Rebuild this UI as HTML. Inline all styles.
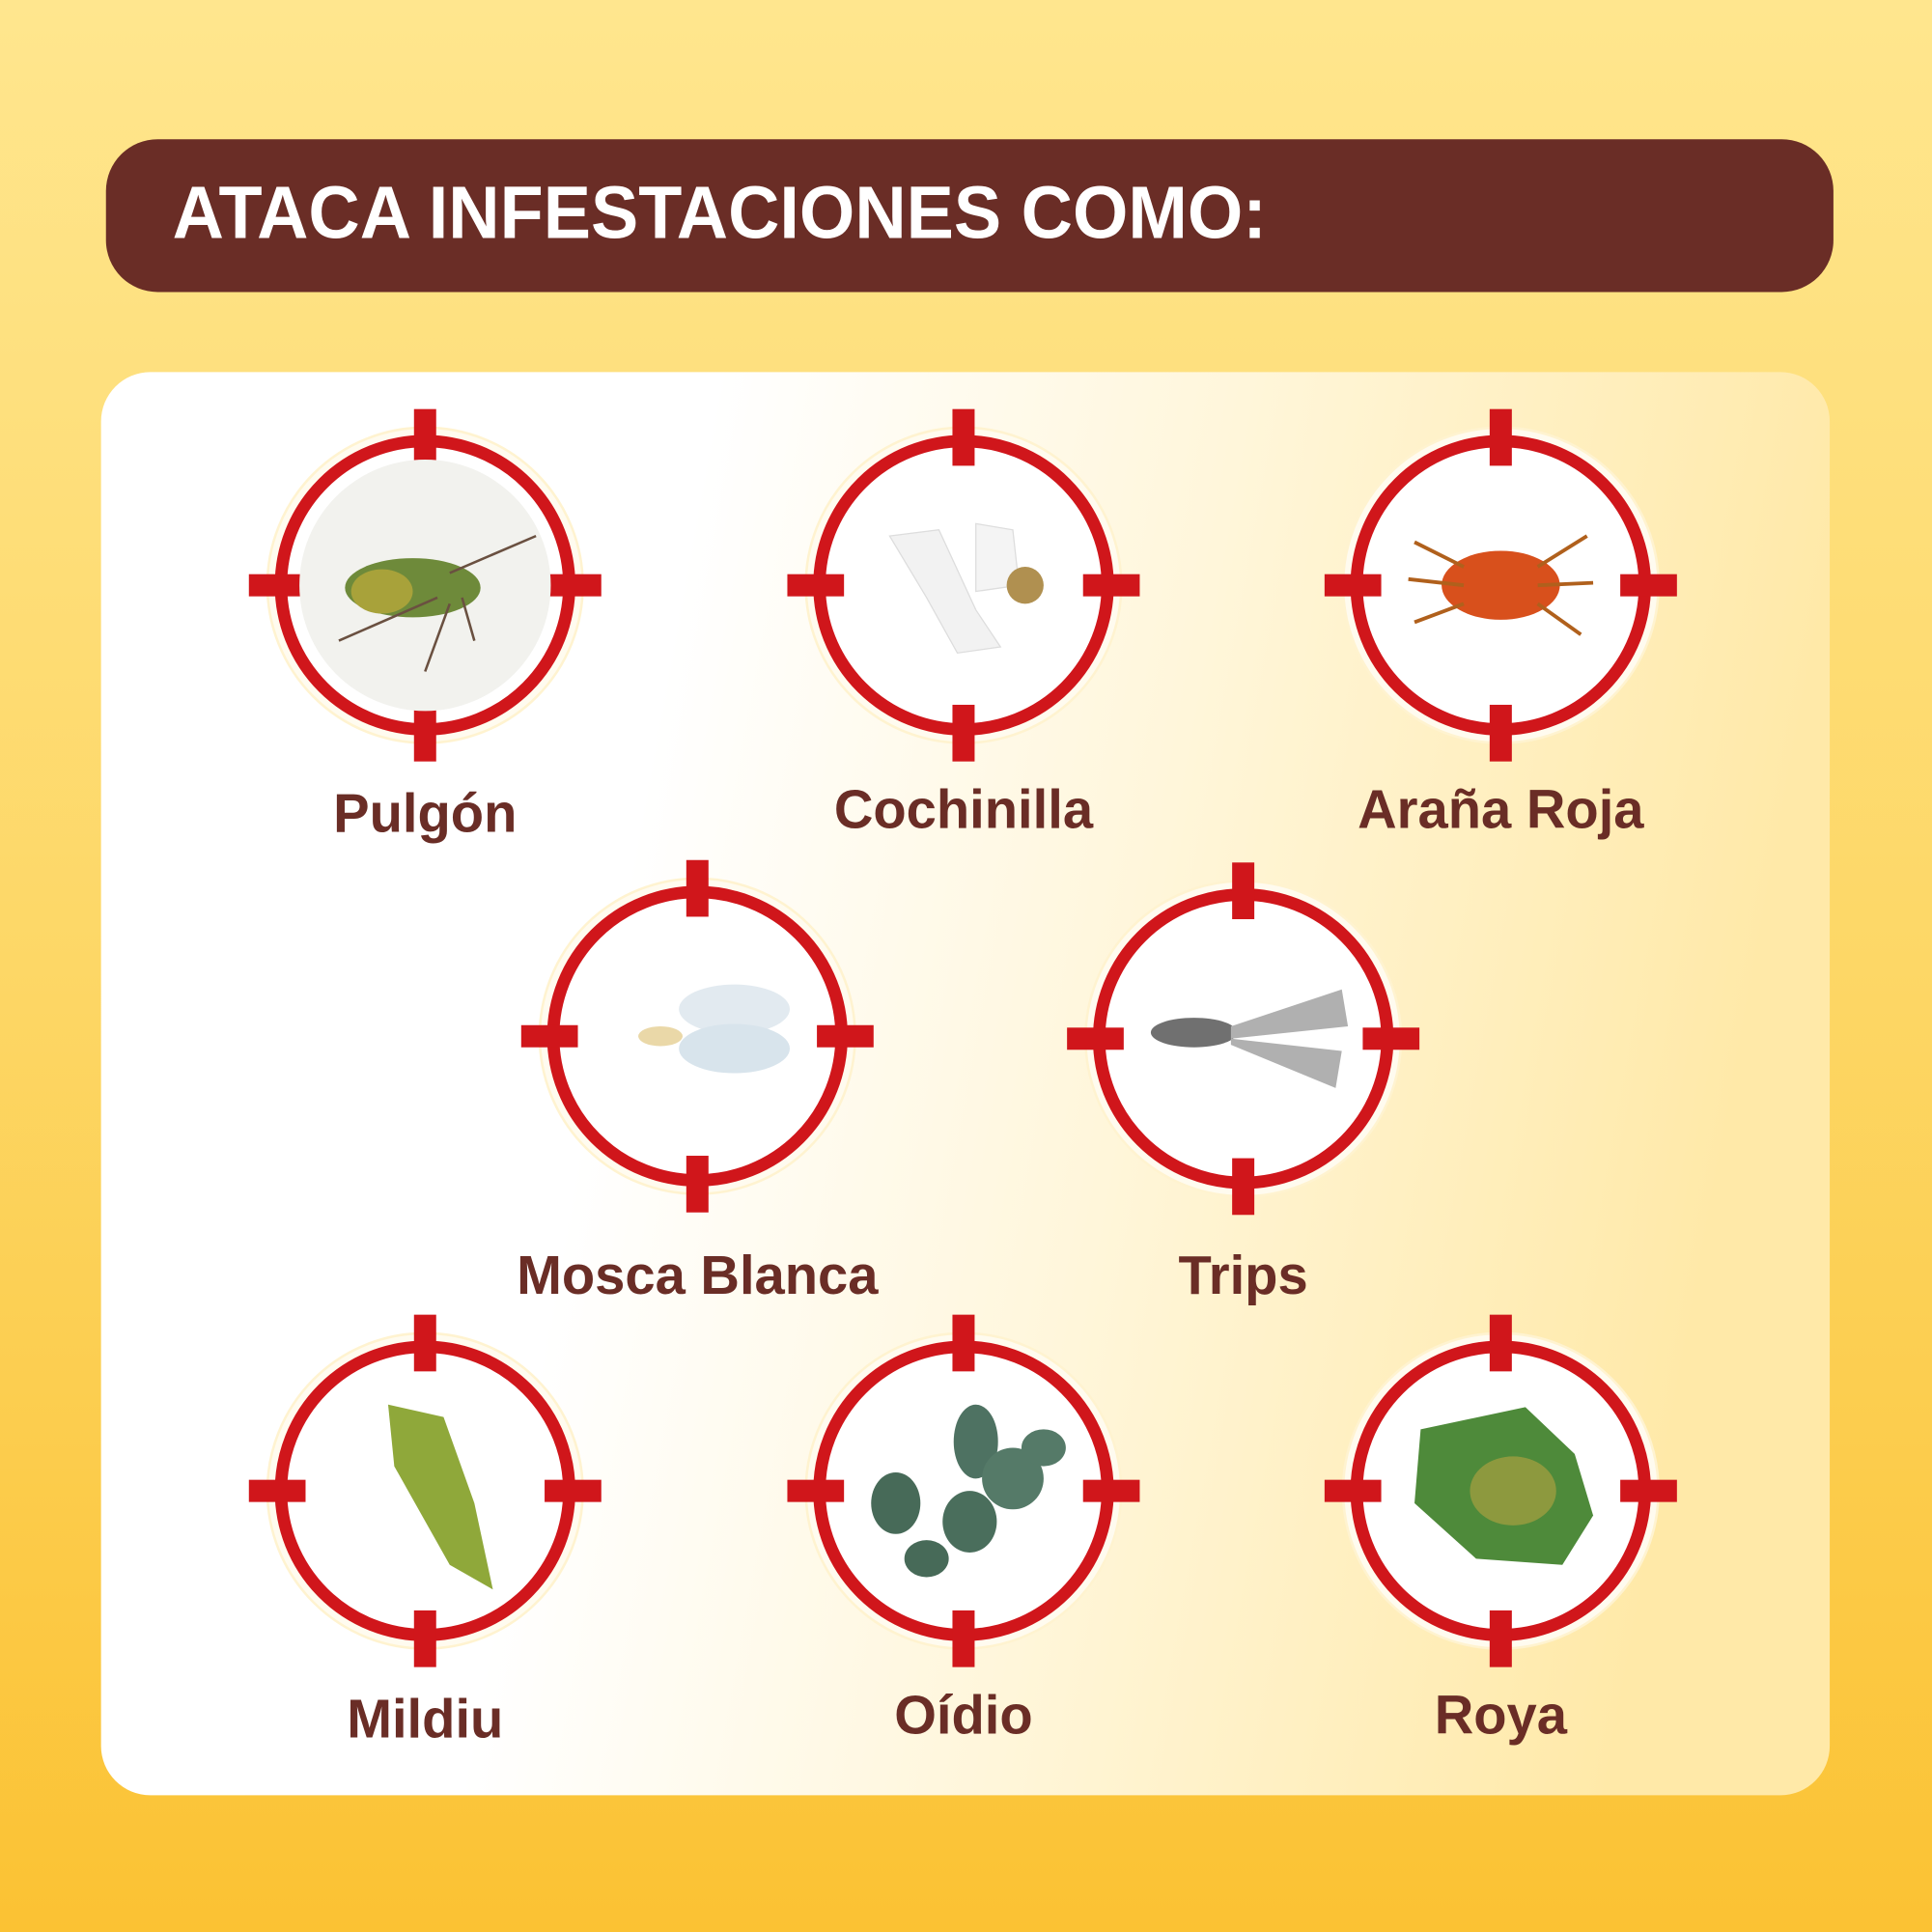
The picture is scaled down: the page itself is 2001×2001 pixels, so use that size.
<!DOCTYPE html>
<html><head><meta charset="utf-8"><style>
html,body{margin:0;padding:0;width:2001px;height:2001px;overflow:hidden}
svg{display:block}
</style></head><body>
<svg width="2001" height="2001" viewBox="0 0 1568 1568" xmlns="http://www.w3.org/2000/svg">
<defs>
<linearGradient id="bg" x1="0" y1="0" x2="0" y2="1">
<stop offset="0" stop-color="#FFE68E"/><stop offset="0.5" stop-color="#FDD766"/><stop offset="1" stop-color="#FBC233"/>
</linearGradient>
<linearGradient id="pn" x1="0" y1="0" x2="1" y2="0.15">
<stop offset="0" stop-color="#FFFFFF"/><stop offset="0.35" stop-color="#FFFFFF"/><stop offset="0.65" stop-color="#FFF6DA"/><stop offset="1" stop-color="#FFE9A8"/>
</linearGradient>
<g id="t">
<circle r="128" fill="#FFFBEF" stroke="#FFF3D0" stroke-width="2"/>
<circle r="116" fill="#FFFFFF"/>
<circle r="117" fill="none" stroke="#D0161B" stroke-width="10"/>
<rect x="-9" y="-143" width="18" height="46" fill="#D0161B"/>
<rect x="-9" y="97" width="18" height="46" fill="#D0161B"/>
<rect x="-143" y="-9" width="46" height="18" fill="#D0161B"/>
<rect x="97" y="-9" width="46" height="18" fill="#D0161B"/>
</g>
</defs>
<rect width="1568" height="1568" fill="url(#bg)"/>
<rect x="86" y="113" width="1402" height="124" rx="42" fill="#6A2D26"/>
<text x="140" y="193" font-family="Liberation Sans, sans-serif" font-weight="bold" font-size="60" fill="#FFFFFF" textLength="888" lengthAdjust="spacingAndGlyphs">ATACA INFESTACIONES COMO:</text>
<rect x="82" y="302" width="1403" height="1155" rx="40" fill="url(#pn)"/>

<g transform="translate(345,475)"><use href="#t"/><circle r="102" fill="#F2F2EE"/><ellipse cx="-10" cy="2" rx="55" ry="24" fill="#6E8A3A"/><ellipse cx="-35" cy="5" rx="25" ry="18" fill="#A8A23A"/><path d="M20 -10 L90 -40 M10 10 L-70 45 M20 15 L0 70 M30 10 L40 45" stroke="#6a5040" stroke-width="2" fill="none"/></g>
<g transform="translate(782,475)"><use href="#t"/><path d="M-60 -40 L-20 -45 L10 20 L30 50 L-5 55 L-30 10 Z" fill="#F2F2F2" stroke="#ddd"/><path d="M10 -50 L40 -45 L45 0 L10 5 Z" fill="#F4F4F4" stroke="#ddd"/><circle cx="50" cy="0" r="15" fill="#B09050"/></g>
<g transform="translate(1218,475)"><use href="#t"/><ellipse rx="48" ry="28" fill="#D8501C"/><path d="M-30 -15 L-70 -35 M-30 0 L-75 -5 M-30 15 L-70 30 M30 -15 L70 -40 M30 0 L75 -2 M30 15 L65 40" stroke="#B0601C" stroke-width="3" fill="none"/></g>
<g transform="translate(566,841)"><use href="#t"/><ellipse cx="30" cy="-22" rx="45" ry="20" fill="#E2EAF0"/><ellipse cx="30" cy="10" rx="45" ry="20" fill="#D8E4EC"/><ellipse cx="-30" cy="0" rx="18" ry="8" fill="#EAD8A8"/></g>
<g transform="translate(1009,843)"><use href="#t"/><ellipse cx="-40" cy="-5" rx="35" ry="12" fill="#707070"/><path d="M-10 -10 L80 -40 L85 -10 L-10 0 Z M-10 0 L80 10 L75 40 L-10 5Z" fill="#B0B0B0"/></g>
<g transform="translate(345,1210)"><use href="#t"/><path d="M-30 -70 L15 -60 L40 10 L55 80 L20 60 L-25 -20 Z" fill="#8FA83A"/></g>
<g transform="translate(782,1210)"><use href="#t"/><ellipse cx="-55" cy="10" rx="20" ry="25" fill="#476A58"/><ellipse cx="10" cy="-40" rx="18" ry="30" fill="#4E7262"/><ellipse cx="40" cy="-10" rx="25" ry="25" fill="#557A68"/><ellipse cx="5" cy="25" rx="22" ry="25" fill="#4A6E5C"/><ellipse cx="-30" cy="55" rx="18" ry="15" fill="#476A58"/><ellipse cx="65" cy="-35" rx="18" ry="15" fill="#557A68"/></g>
<g transform="translate(1218,1210)"><use href="#t"/><path d="M-65 -50 L20 -68 L60 -30 L75 20 L50 60 L-20 55 L-70 10 Z" fill="#4E8A3A"/><ellipse cx="10" cy="0" rx="35" ry="28" fill="#A8A040" opacity="0.7"/></g>

<g font-family="Liberation Sans, sans-serif" font-weight="bold" font-size="44" fill="#6A2D26" text-anchor="middle">
<text x="345" y="675">Pulgón</text>
<text x="782" y="672">Cochinilla</text>
<text x="1218" y="672">Araña Roja</text>
<text x="566" y="1050">Mosca Blanca</text>
<text x="1009" y="1050">Trips</text>
<text x="345" y="1410">Mildiu</text>
<text x="782" y="1407">Oídio</text>
<text x="1218" y="1407">Roya</text>
</g>
</svg>
</body></html>
